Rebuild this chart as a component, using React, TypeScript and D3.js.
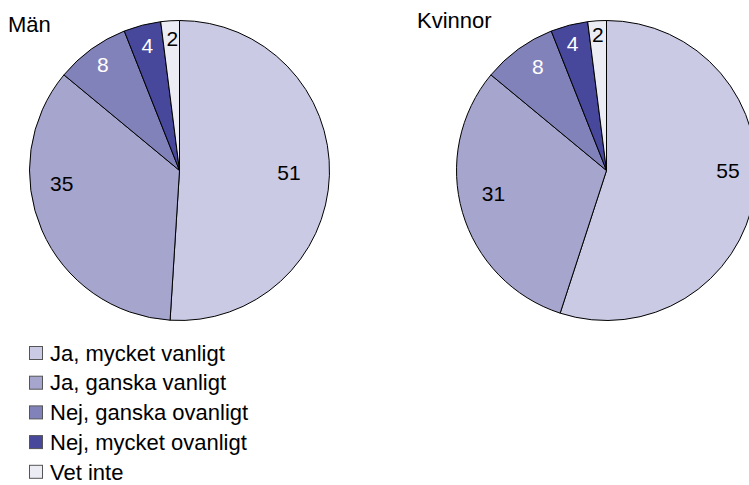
import React, { useEffect, useRef } from "react";
import * as d3 from "d3";

// Answer categories, in slice order (clockwise from 12 o'clock)
const categories = [
  "Ja, mycket vanligt",
  "Ja, ganska vanligt",
  "Nej, ganska ovanligt",
  "Nej, mycket ovanligt",
  "Vet inte",
];

const menValues = [51, 35, 8, 4, 2];
const womenValues = [55, 31, 8, 4, 2];

const colors = ["#CACAE4", "#A5A5CE", "#8282BA", "#47479B", "#ECECF5"];
const labelColors = ["#000", "#000", "#fff", "#fff", "#000"];

// label placement inside each slice: [radius fraction, angle shift in degrees]
const menLabelPos = [
  [0.73, -1],
  [0.79, 17],
  [0.87, 0],
  [0.86, 0],
  [0.88, 0.5],
];
const womenLabelPos = [
  [0.81, -9],
  [0.77, 4.5],
  [0.83, 2.5],
  [0.88, -0.5],
  [0.91, 0],
];

const W = 749;
const H = 485;
const R = 150;
const FONT = "'Liberation Sans', Arial, sans-serif";

function App() {
  const ref = useRef<SVGSVGElement>(null);

  useEffect(() => {
    const svg = d3.select(ref.current).attr("width", W).attr("height", H);
    svg.selectAll("*").remove();

    const color = d3.scaleOrdinal<string, string>().domain(categories).range(colors);
    const pie = d3
      .pie<number>()
      .sort(null)
      .value((d) => d);
    const arc = d3.arc<d3.PieArcDatum<number>>().innerRadius(0).outerRadius(R);

    const drawPie = (
      values: number[],
      cx: number,
      cy: number,
      title: string,
      tx: number,
      ty: number,
      labelPos: number[][]
    ) => {
      const g = svg.append("g").attr("transform", `translate(${cx},${cy})`);
      const arcs = pie(values);

      g.selectAll("path")
        .data(arcs)
        .join("path")
        .attr("d", arc)
        .attr("fill", (d, i) => color(categories[i]))
        .attr("stroke", "#000")
        .attr("stroke-width", 1);

      g.selectAll("text.val")
        .data(arcs)
        .join("text")
        .attr("class", "val")
        .attr("transform", (d, i) => {
          const [f, shift] = labelPos[i];
          const a = (d.startAngle + d.endAngle) / 2 + (shift * Math.PI) / 180;
          const r = f * R;
          return `translate(${r * Math.sin(a)},${-r * Math.cos(a)})`;
        })
        .attr("text-anchor", "middle")
        .attr("dy", "0.36em")
        .attr("fill", (d, i) => labelColors[i])
        .style("font-family", FONT)
        .style("font-size", "21px")
        .text((d) => d.data);

      svg
        .append("text")
        .attr("x", tx)
        .attr("y", ty)
        .style("font-family", FONT)
        .style("font-size", "22px")
        .text(title);
    };

    drawPie(menValues, 179.5, 170.5, "Män", 8, 32, menLabelPos);
    drawPie(womenValues, 606.5, 170.5, "Kvinnor", 417, 28, womenLabelPos);

    // Legend
    const legend = svg.append("g").attr("transform", "translate(29,353)");
    const rows = legend
      .selectAll("g")
      .data(categories)
      .join("g")
      .attr("transform", (d, i) => `translate(0,${i * 29.7})`);

    rows
      .append("rect")
      .attr("x", 0.5)
      .attr("y", -6.5)
      .attr("width", 13)
      .attr("height", 13)
      .attr("fill", (d) => color(d))
      .attr("stroke", "#555")
      .attr("stroke-width", 1);

    rows
      .append("text")
      .attr("x", 21)
      .attr("dy", "0.35em")
      .style("font-family", FONT)
      .style("font-size", "22px")
      .text((d) => d);
  }, []);

  return (
    <svg
      ref={ref}
      style={{ position: "absolute", left: 0, top: 0, background: "#fff" }}
    ></svg>
  );
}

export default App;
